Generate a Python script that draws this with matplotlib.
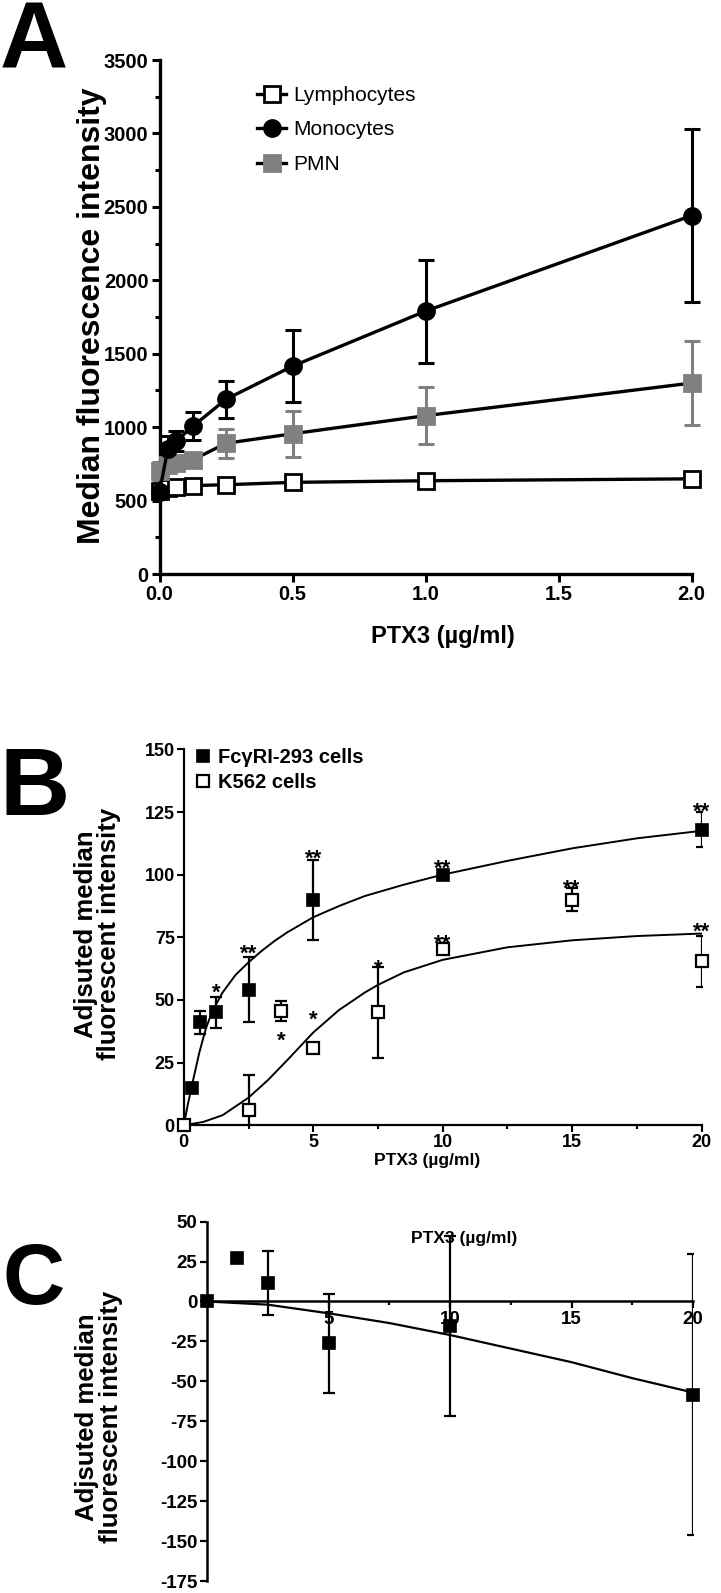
import matplotlib
matplotlib.use('Agg')
import matplotlib.pyplot as plt
from matplotlib.lines import Line2D

plt.rcParams['font.family'] = ['Liberation Sans', 'DejaVu Sans']
plt.rcParams['axes.unicode_minus'] = False

W, H = 721, 1593

# ---------------- Panel A data ----------------
conc_A = [0, 0.03125, 0.0625, 0.125, 0.25, 0.5, 1.0, 2.0]
lymph = [565, 585, 595, 602, 608, 624, 635, 648]
lymph_err = [15, 15, 15, 15, 15, 20, 20, 20]
mono = [560, 850, 905, 1005, 1190, 1415, 1790, 2440]
mono_err = [20, 90, 70, 95, 125, 245, 350, 590]
pmn = [700, 740, 755, 777, 890, 955, 1078, 1300]
pmn_err = [60, 40, 35, 40, 100, 155, 195, 285]
labels_A = ['Lymphocytes', 'Monocytes', 'PMN']
yticks_A = [0, 500, 1000, 1500, 2000, 2500, 3000, 3500]
xticks_A = [0.0, 0.5, 1.0, 1.5, 2.0]

# ---------------- Panel B data ----------------
conc_fc = [0, 0.3125, 0.625, 1.25, 2.5, 5, 10, 20]
fc_mfi = [0, 15, 41, 45, 54, 90, 100, 118]
fc_err = [0, 0, 4.5, 6.3, 13, 16, 1, 7]
conc_k = [0, 2.5, 3.75, 5, 7.5, 10, 15, 20]
k_mfi = [0, 6, 45.5, 31, 45, 70.5, 90, 65.5]
k_err = [0, 14, 4, 1, 18, 1, 4.6, 10.2]
fc_curve_x = [0, 0.15, 0.36, 0.6, 0.85, 1.1, 1.5, 2.0, 2.5, 3.0, 3.5, 4.0, 5, 6, 7, 8.5, 10, 12.5, 15, 17.5, 20]
fc_curve_y = [0, 8, 18, 29, 38.5, 45.5, 53, 60, 65, 69.5, 73.5, 77, 83, 87.5, 91.5, 96, 100, 105.5, 110.5, 114.5, 117.5]
k_curve_x = [0, 0.75, 1.5, 2.5, 3.25, 4, 5, 6, 7, 7.5, 8.5, 10, 12.5, 15, 17.5, 20]
k_curve_y = [0, 1.3, 4, 11, 18, 26, 37, 46, 53, 56, 61, 66, 71, 73.8, 75.5, 76.5]
# significance stars (x, y, text)
stars_fc = [(1.25, 55.4, '*'), (2.5, 71.2, '**'), (5, 109, '**'), (10, 104.9, '**'), (20, 128, '**')]
stars_k = [(3.75, 36.3, '*'), (5, 44.9, '*'), (7.5, 65.3, '*'), (10, 75.2, '**'), (15, 97, '**'), (20, 80.1, '**')]
labels_B = ['Fc\u03b3RI-293 cells', 'K562 cells']

# ---------------- Panel C data ----------------
conc_C = [0, 1.25, 2.5, 5, 10, 20]
c_mfi = [0, 27.5, 11.4, -26.3, -15.4, -58.3]
c_err = [0, 0, 20, 31, 56.5, 88]
c_curve_x = [0, 2.5, 5, 7.5, 10, 12.5, 15, 17.5, 20]
c_curve_y = [0, -2, -7.4, -13.5, -21, -29.5, -38, -48, -57]

fig = plt.figure(figsize=(W / 100, H / 100), dpi=100)


def ax_rect(l, r, t, b):
    return [l / W, 1 - b / H, (r - l) / W, (b - t) / H]


def fx(x):
    return x / W


def fy(y):
    return 1 - y / H


def style_axes(ax, lw, tick_len, tick_w, fs, pad=3):
    for s in ['top', 'right']:
        ax.spines[s].set_visible(False)
    for s in ['left', 'bottom']:
        ax.spines[s].set_linewidth(lw)
    ax.tick_params(which='major', direction='out', length=tick_len, width=tick_w,
                   labelsize=fs, pad=pad)
    ax.tick_params(which='minor', direction='out', length=tick_len * 0.6, width=tick_w)
    for t in ax.get_xticklabels() + ax.get_yticklabels():
        t.set_fontweight('bold')


# ================= Panel A =================
axA = fig.add_axes(ax_rect(159.5, 691.5, 60, 574))
axA.set_xlim(0, 2.0)
axA.set_ylim(0, 3500)
axA.set_xticks(xticks_A)
axA.set_xticklabels(['%.1f' % v for v in xticks_A])
axA.set_yticks(yticks_A)
axA.set_yticks([v + 250 for v in yticks_A[:-1]], minor=True)

seriesA = [
    (lymph, lymph_err, 's', 'white', 'black', 'black'),
    (pmn, pmn_err, 's', '#808080', '#808080', '#808080'),
    (mono, mono_err, 'o', 'black', 'black', 'black'),
]
for vals, errs, mk, mfc, mec, ecol in seriesA:
    axA.errorbar(conc_A, vals, yerr=errs, fmt='none', ecolor=ecol, elinewidth=2.2,
                 capsize=5.5, capthick=2.2, clip_on=False, zorder=2)
    axA.plot(conc_A, vals, color='black', lw=2.4, marker=mk, ms=11.5, mfc=mfc,
             mec=mec, mew=2, clip_on=False, zorder=3)
hA = [Line2D([], [], color='black', lw=2.4, marker='s', ms=11.5, mfc='white', mec='black', mew=2),
      Line2D([], [], color='black', lw=2.4, marker='o', ms=11.5, mfc='black', mec='black', mew=2),
      Line2D([], [], color='black', lw=2.4, marker='s', ms=11.5, mfc='#808080', mec='#808080', mew=2)]
axA.legend(hA, labels_A, loc='upper left', bbox_to_anchor=(fx(257), fy(86)),
           bbox_transform=fig.transFigure, frameon=False, fontsize=15,
           handlelength=1.4, handletextpad=0.35, labelspacing=0.74,
           borderpad=0, borderaxespad=0)
style_axes(axA, 2.4, 6, 2.2, 14.5, pad=2)
fig.text(fx(92), fy(316), 'Median fluorescence intensity', rotation=90,
         ha='center', va='center', fontsize=23, fontweight='bold')
fig.text(fx(443), fy(637), 'PTX3 (\u00b5g/ml)', ha='center', va='center',
         fontsize=17, fontweight='bold')
fig.text(fx(0), fy(68), 'A', ha='left', va='baseline', fontsize=68, fontweight='bold')

# ================= Panel B =================
axB = fig.add_axes(ax_rect(183.8, 701.5, 749.4, 1125.2))
axB.set_xlim(0, 20)
axB.set_ylim(0, 150)
axB.set_xticks([0, 5, 10, 15, 20])
axB.set_xticks([2.5, 7.5, 12.5, 17.5], minor=True)
axB.set_yticks([0, 25, 50, 75, 100, 125, 150])
axB.plot(fc_curve_x, fc_curve_y, color='black', lw=1.4, zorder=2)
axB.plot(k_curve_x, k_curve_y, color='black', lw=1.4, zorder=2)
axB.errorbar(conc_fc, fc_mfi, yerr=fc_err, fmt='none', ecolor='black', elinewidth=1.6,
             capsize=4.5, capthick=1.6, zorder=3)
axB.errorbar(conc_k, k_mfi, yerr=k_err, fmt='none', ecolor='black', elinewidth=1.6,
             capsize=4.5, capthick=1.6, zorder=3)
axB.plot(conc_fc, fc_mfi, ls='none', marker='s', ms=8, mfc='black', mec='black',
         mew=1.2, clip_on=False, zorder=4)
axB.plot(conc_k, k_mfi, ls='none', marker='s', ms=8, mfc='white', mec='black',
         mew=1.6, clip_on=False, zorder=4)
star_fs = 16
for x, y, s in stars_fc + stars_k:
    axB.annotate(s, (x, y), xytext=(0, -0.575 * star_fs), textcoords='offset points',
                 ha='center', va='baseline', fontsize=star_fs, fontweight='bold', zorder=5)
hB = [Line2D([], [], ls='none', marker='s', ms=8, mfc='black', mec='black', mew=1.2),
      Line2D([], [], ls='none', marker='s', ms=8, mfc='white', mec='black', mew=1.6)]
axB.legend(hB, labels_B, loc='upper left', bbox_to_anchor=(fx(195), fy(748)),
           bbox_transform=fig.transFigure, frameon=False,
           prop={'weight': 'bold', 'size': 14.5},
           handlelength=0.8, handletextpad=0.35, labelspacing=0.29,
           borderpad=0, borderaxespad=0)
style_axes(axB, 1.6, 5, 1.5, 13, pad=1.5)
fig.text(fx(97.5), fy(934), 'Adjsuted median\nfluorescent intensity', rotation=90,
         ha='center', va='center', multialignment='center', fontsize=18.5,
         fontweight='bold', linespacing=0.95)
fig.text(fx(427.5), fy(1161), 'PTX3 (\u00b5g/ml)', ha='center', va='center',
         fontsize=12.5, fontweight='bold')
fig.text(fx(0), fy(815), 'B', ha='left', va='baseline', fontsize=70, fontweight='bold')

# ================= Panel C =================
axC = fig.add_axes(ax_rect(207, 693, 1221.6, 1581))
axC.set_xlim(0, 20)
axC.set_ylim(-175, 50)
axC.spines['bottom'].set_position(('data', 0))
axC.set_xticks([0, 5, 10, 15, 20])
axC.set_xticklabels(['', '5', '10', '15', '20'])
axC.set_xticks([2.5, 7.5, 12.5, 17.5], minor=True)
axC.set_yticks(list(range(-175, 51, 25)))
axC.plot(c_curve_x, c_curve_y, color='black', lw=1.6, zorder=2)
axC.errorbar(conc_C, c_mfi, yerr=c_err, fmt='none', ecolor='black', elinewidth=1.6,
             capsize=4.5, capthick=1.6, zorder=3)
axC.plot(conc_C, c_mfi, ls='none', marker='s', ms=8, mfc='black', mec='black',
         mew=1.2, clip_on=False, zorder=4)
style_axes(axC, 1.8, 5, 1.6, 13.5, pad=2)
axC.text(10.6, 39.2, 'PTX3 (\u00b5g/ml)', ha='center', va='center', fontsize=12.5,
         fontweight='bold')
fig.text(fx(99), fy(1417), 'Adjsuted median\nfluorescent intensity', rotation=90,
         ha='center', va='center', multialignment='center', fontsize=18.5,
         fontweight='bold', linespacing=0.95)
fig.text(fx(2), fy(1304), 'C', ha='left', va='baseline', fontsize=62, fontweight='bold')

fig.savefig('out.png', dpi=100)
